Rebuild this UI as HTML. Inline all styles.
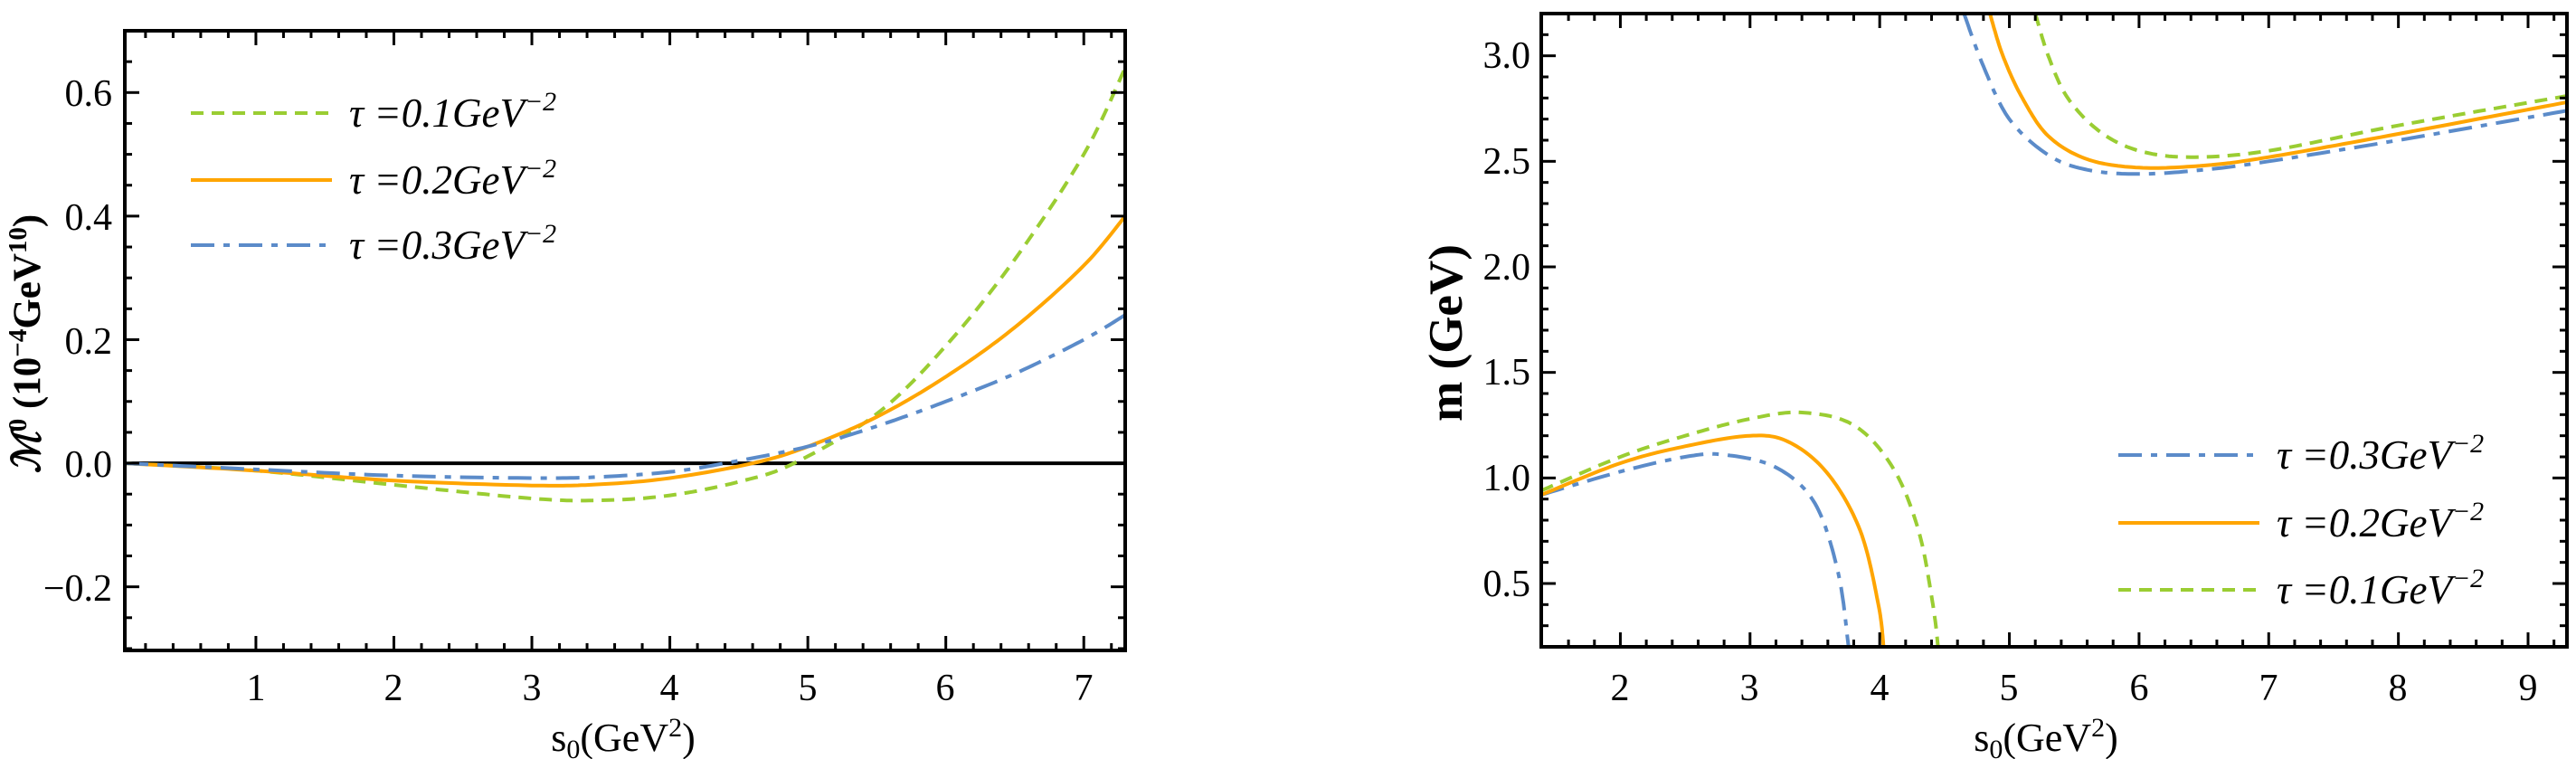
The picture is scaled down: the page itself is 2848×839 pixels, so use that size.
<!DOCTYPE html>
<html><head><meta charset="utf-8"><style>
html,body{margin:0;padding:0;background:#fff;}
svg{display:block;}
text{font-family:"Liberation Serif",serif;fill:#000;}
.t{font-size:42px;}
.leg{font-size:45px;font-style:italic;}
</style></head><body>
<svg id="s" width="2848" height="839" viewBox="0 0 2848 839" xmlns="http://www.w3.org/2000/svg">
<rect width="2848" height="839" fill="#fff"/>
<g id="g"></g>
<g class="t" text-anchor="end">
<text x="124" y="117">0.6</text>
<text x="124" y="254">0.4</text>
<text x="124" y="391">0.2</text>
<text x="124" y="527">0.0</text>
<text x="124" y="664">−0.2</text>
</g>
<g class="t" text-anchor="middle">
<text x="283" y="774">1</text><text x="435" y="774">2</text><text x="588" y="774">3</text>
<text x="740" y="774">4</text><text x="893" y="774">5</text><text x="1045" y="774">6</text><text x="1198" y="774">7</text>
</g>
<text x="689" y="830" text-anchor="middle" style="font-size:44px">s<tspan font-size="30" dy="8">0</tspan><tspan dy="-8">(GeV</tspan><tspan font-size="30" dy="-16">2</tspan><tspan dy="16">)</tspan></text>
<text transform="translate(44,380) rotate(-90)" text-anchor="middle" style="font-size:43px;font-weight:bold"><tspan font-style="italic">ℳ</tspan><tspan font-size="29" dy="-15">0</tspan><tspan dy="15"> (10</tspan><tspan font-size="29" dy="-15">−4</tspan><tspan dy="15">GeV</tspan><tspan font-size="29" dy="-15">10</tspan><tspan dy="15">)</tspan></text>
<g class="leg">
<text x="386" y="140">τ =0.1GeV<tspan font-size="30" dy="-18">−2</tspan></text>
<text x="386" y="214">τ =0.2GeV<tspan font-size="30" dy="-18">−2</tspan></text>
<text x="386" y="286">τ =0.3GeV<tspan font-size="30" dy="-18">−2</tspan></text>
</g>
<g class="t" text-anchor="end">
<text x="1692" y="75">3.0</text><text x="1692" y="192">2.5</text><text x="1692" y="309">2.0</text>
<text x="1692" y="425">1.5</text><text x="1692" y="542">1.0</text><text x="1692" y="659">0.5</text>
</g>
<g class="t" text-anchor="middle">
<text x="1791" y="774">2</text><text x="1934" y="774">3</text><text x="2078" y="774">4</text><text x="2221" y="774">5</text>
<text x="2365" y="774">6</text><text x="2508" y="774">7</text><text x="2651" y="774">8</text><text x="2795" y="774">9</text>
</g>
<text x="2262" y="830" text-anchor="middle" style="font-size:44px">s<tspan font-size="30" dy="8">0</tspan><tspan dy="-8">(GeV</tspan><tspan font-size="30" dy="-16">2</tspan><tspan dy="16">)</tspan></text>
<text transform="translate(1616,368) rotate(-90)" text-anchor="middle" style="font-size:53px;font-weight:bold">m (GeV)</text>
<g class="leg">
<text x="2517" y="518">τ =0.3GeV<tspan font-size="30" dy="-18">−2</tspan></text>
<text x="2517" y="593">τ =0.2GeV<tspan font-size="30" dy="-18">−2</tspan></text>
<text x="2517" y="667">τ =0.1GeV<tspan font-size="30" dy="-18">−2</tspan></text>
</g>
</svg>
<script>
(function(){
var NS="http://www.w3.org/2000/svg",g=document.getElementById("g");
function el(n,a){var e=document.createElementNS(NS,n);for(var k in a)e.setAttribute(k,a[k]);g.appendChild(e);return e;}
var GR="#9acd32",OR="#ffa500",BL="#5b8bc9";
var sty={g:{stroke:GR,"stroke-dasharray":"14 9"},o:{stroke:OR},b:{stroke:BL,"stroke-dasharray":"26 10 7 10"}};
function line(pts,s,w){var a={fill:"none","stroke-width":w||4};for(var k in sty[s])a[k]=sty[s][k];a.points=pts.map(function(p){return p[0].toFixed(1)+","+p[1].toFixed(1)}).join(" ");el("polyline",a);}
function cr(P,n){var out=[];for(var i=0;i<P.length-1;i++){var p0=P[i-1]||P[i],p1=P[i],p2=P[i+1],p3=P[i+2]||P[i+1];for(var j=0;j<n;j++){var t=j/n,t2=t*t,t3=t2*t;var f=function(a,b,c,d){return 0.5*((2*b)+(-a+c)*t+(2*a-5*b+4*c-d)*t2+(-a+3*b-3*c+d)*t3)};out.push([f(p0[0],p1[0],p2[0],p3[0]),f(p0[1],p1[1],p2[1],p3[1])]);}}out.push(P[P.length-1]);return out;}
function plot(ax,data,s){var px=data.map(function(p){return [ax.X(p[0]),ax.Y(p[1])]});line(cr(px,16),s);}
function frame(ax,xmaj,xmin,ymaj,ymin){
 el("rect",{x:ax.x0,y:ax.y0,width:ax.x1-ax.x0,height:ax.y1-ax.y0,fill:"none",stroke:"#000","stroke-width":4});
 function tk(v,isX,L){if(isX){var x=ax.X(v);if(x<ax.x0+2||x>ax.x1-2)return;el("line",{x1:x,x2:x,y1:ax.y1,y2:ax.y1-L,stroke:"#000","stroke-width":3});el("line",{x1:x,x2:x,y1:ax.y0,y2:ax.y0+L,stroke:"#000","stroke-width":3});}
  else{var y=ax.Y(v);if(y<ax.y0+2||y>ax.y1-2)return;el("line",{x1:ax.x0,x2:ax.x0+L,y1:y,y2:y,stroke:"#000","stroke-width":3});el("line",{x1:ax.x1,x2:ax.x1-L,y1:y,y2:y,stroke:"#000","stroke-width":3});}}
 for(var v=Math.ceil(ax.xa/xmin)*xmin;v<=ax.xb;v+=xmin){var m=Math.abs(v/xmaj-Math.round(v/xmaj))<1e-6;tk(v,1,m?16:8);}
 for(var v=Math.ceil(ax.ya/ymin)*ymin;v<=ax.yb;v+=ymin){var m=Math.abs(v/ymaj-Math.round(v/ymaj))<1e-6;tk(v,0,m?16:8);}
}
function mk(x0,x1,y0,y1,xa,xb,ya,yb){return{x0:x0,x1:x1,y0:y0,y1:y1,xa:xa,xb:xb,ya:ya,yb:yb,X:function(v){return x0+(v-xa)/(xb-xa)*(x1-x0)},Y:function(v){return y1-(v-ya)/(yb-ya)*(y1-y0)}};}
var A=mk(138,1244,34,719,0.05,7.3,-0.303,0.70);
el("line",{x1:138,x2:1244,y1:A.Y(0),y2:A.Y(0),stroke:"#000","stroke-width":4});
plot(A,[[0.05,0],[1,-0.012],[2,-0.035],[3,-0.057],[3.5,-0.06],[4,-0.052],[4.5,-0.03],[4.9,0],[5.5,0.08],[6,0.19],[6.5,0.33],[7,0.5],[7.3,0.64]],"g");
plot(A,[[0.05,0],[1,-0.012],[2,-0.028],[3,-0.036],[3.5,-0.034],[4,-0.024],[4.6,0],[5,0.027],[5.5,0.075],[6,0.14],[6.5,0.22],[7,0.32],[7.3,0.4]],"o");
plot(A,[[0.05,0],[1,-0.01],[2,-0.02],[3,-0.024],[3.5,-0.022],[4,-0.014],[4.4,0],[5,0.027],[5.5,0.06],[6,0.1],[6.5,0.145],[7,0.2],[7.3,0.24]],"b");
frame(A,1,0.2,0.2,0.05);
line([[211,125],[367,125]],"g");line([[211,199],[367,199]],"o");line([[211,271],[367,271]],"b");
var B=mk(1704,2838,15,715,1.39,9.3,0.2,3.2);
plot(B,[[1.39,0.92],[2,1.03],[2.5,1.1],[2.8,1.11],[3.2,1.05],[3.5,0.88],[3.68,0.55],[3.76,0.2]],"b");
plot(B,[[1.39,0.92],[2,1.07],[2.5,1.15],[3,1.2],[3.3,1.17],[3.6,1.02],[3.85,0.75],[3.99,0.4],[4.03,0.2]],"o");
plot(B,[[1.39,0.94],[2,1.1],[2.5,1.2],[3,1.28],[3.4,1.31],[3.8,1.25],[4.1,1.05],[4.3,0.75],[4.41,0.4],[4.45,0.2]],"g");
plot(B,[[4.65,3.2],[4.8,2.95],[5,2.7],[5.3,2.53],[5.6,2.46],[6,2.44],[6.5,2.46],[7,2.5],[8,2.6],[9.3,2.74]],"b");
plot(B,[[4.85,3.2],[4.95,3.0],[5.1,2.8],[5.3,2.62],[5.6,2.51],[6,2.47],[6.5,2.48],[7,2.52],[8,2.63],[9.3,2.78]],"o");
plot(B,[[5.2,3.2],[5.3,3.0],[5.45,2.8],[5.7,2.64],[6,2.55],[6.4,2.52],[7,2.55],[8,2.67],[9.3,2.81]],"g");
frame(B,1,0.2,0.5,0.1);
line([[2342,503],[2498,503]],"b");line([[2342,578],[2498,578]],"o");line([[2342,652],[2498,652]],"g");
})();
</script>
</body></html>
